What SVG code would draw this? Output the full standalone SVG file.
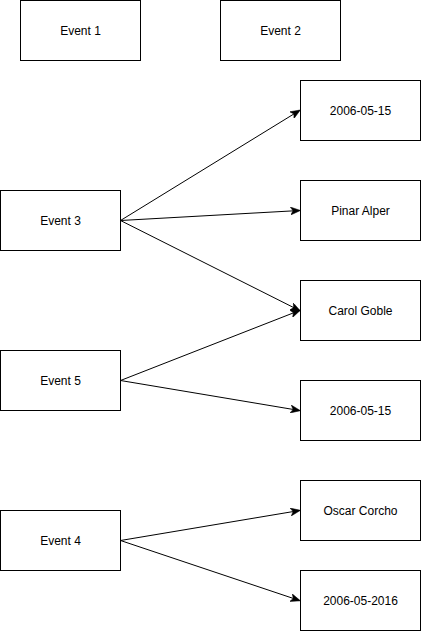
<svg xmlns="http://www.w3.org/2000/svg" width="421" height="631" viewBox="0 0 421 631">
<defs>
<marker id="arr" viewBox="0 0 10 8" refX="9" refY="4" markerWidth="10" markerHeight="8" markerUnits="userSpaceOnUse" orient="auto">
<path d="M0,0 L10,4 L0,8 L2.5,4 Z" fill="#000" stroke="#000" stroke-width="0.5"/>
</marker>
</defs>
<style>
rect{fill:#fff;stroke:#000;stroke-width:1}
text{font-family:"Liberation Sans",Arial,sans-serif;font-size:12px;fill:#000;text-anchor:middle;dominant-baseline:central}
.e{fill:none;stroke:#000;stroke-width:1;marker-end:url(#arr)}
</style>
<rect width="421" height="631" style="fill:#fff;stroke:none"/>
<g id="connectors">
<path class="e" d="M120.5,220.5 L299.5,110.5"/>
<path class="e" d="M120.5,220.5 L299.5,210.5"/>
<path class="e" d="M120.5,220.5 L299.5,310.5"/>
<path class="e" d="M120.5,380.5 L299.5,310.5"/>
<path class="e" d="M120.5,380.5 L299.5,410.5"/>
<path class="e" d="M120.5,540.5 L299.5,510.5"/>
<path class="e" d="M120.5,540.5 L299.5,600.5"/>
</g>
<g id="event1"><rect x="20.5" y="0.5" width="120" height="60"/><text x="80.5" y="30.5">Event 1</text></g>
<g id="event2"><rect x="220.5" y="0.5" width="120" height="60"/><text x="280.5" y="30.5">Event 2</text></g>
<g id="event3"><rect x="0.5" y="190.5" width="120" height="60"/><text x="60.5" y="220.5">Event 3</text></g>
<g id="event5"><rect x="0.5" y="350.5" width="120" height="60"/><text x="60.5" y="380.5">Event 5</text></g>
<g id="event4"><rect x="0.5" y="510.5" width="120" height="60"/><text x="60.5" y="540.5">Event 4</text></g>
<g id="date1"><rect x="300.5" y="80.5" width="120" height="60"/><text x="360.5" y="110.5">2006-05-15</text></g>
<g id="pinar"><rect x="300.5" y="180.5" width="120" height="60"/><text x="360.5" y="210.5">Pinar Alper</text></g>
<g id="carol"><rect x="300.5" y="280.5" width="120" height="60"/><text x="360.5" y="310.5">Carol Goble</text></g>
<g id="date2"><rect x="300.5" y="380.5" width="120" height="60"/><text x="360.5" y="410.5">2006-05-15</text></g>
<g id="oscar"><rect x="300.5" y="480.5" width="120" height="60"/><text x="360.5" y="510.5">Oscar Corcho</text></g>
<g id="date3"><rect x="300.5" y="570.5" width="120" height="60"/><text x="360.5" y="600.5">2006-05-2016</text></g>
</svg>
